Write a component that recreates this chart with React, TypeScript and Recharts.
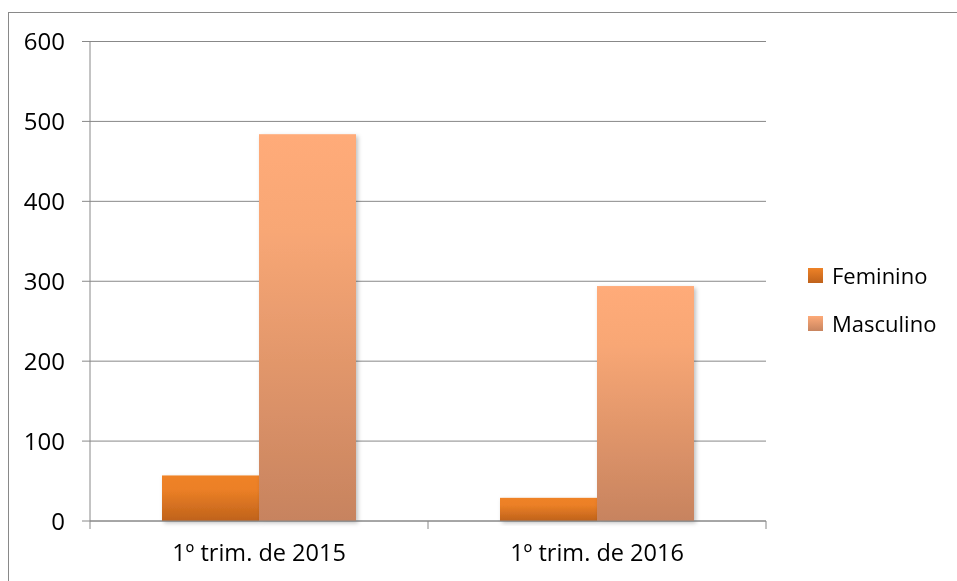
import React from 'react';
import { BarChart, Bar, XAxis, YAxis, CartesianGrid, Legend } from 'recharts';

const categories = ['1º trim. de 2015', '1º trim. de 2016'];
const feminino = [57, 29];
const masculino = [484, 294];
const yTicks = [0, 100, 200, 300, 400, 500, 600];

const data = categories.map((name, i) => ({
  name,
  Feminino: feminino[i],
  Masculino: masculino[i],
}));

const FONT = '"Open Sans", "Liberation Sans", sans-serif';
const GRID = '#888888';
const HALF_BAND = 169;

const legendItems = [
  { label: 'Feminino', top: '#EE8227', bottom: '#BF621B' },
  { label: 'Masculino', top: '#FDAA78', bottom: '#C8845F' },
];

function XTick(props: any) {
  const { x, y, payload, index } = props;
  const last = index === categories.length - 1;
  return (
    <g>
      <line x1={x - HALF_BAND} y1={y} x2={x - HALF_BAND} y2={y + 8} stroke={GRID} />
      {last && <line x1={x + HALF_BAND} y1={y} x2={x + HALF_BAND} y2={y + 8} stroke={GRID} />}
      <text x={x} y={y + 34} textAnchor="middle" dominantBaseline="middle" fontFamily={FONT} fontSize={23.5} fill="#000">
        {payload.value}
      </text>
    </g>
  );
}

function BarShape(props: any) {
  const { x, y, width, height, fill } = props;
  return <rect x={x} y={y} width={width} height={height} fill={fill} filter="url(#barShadow)" />;
}

function LegendContent() {
  return (
    <div style={{ fontFamily: FONT, fontSize: 22, color: '#000', whiteSpace: 'nowrap', width: 150 }}>
      {legendItems.map((it) => (
        <div key={it.label} style={{ height: 48, display: 'flex', alignItems: 'center' }}>
          <div
            style={{
              width: 15,
              height: 15,
              flexShrink: 0,
              marginRight: 9,
              background: `linear-gradient(${it.top}, ${it.bottom})`,
            }}
          />
          <span>{it.label}</span>
        </div>
      ))}
    </div>
  );
}

export default function App() {
  return (
    <div
      style={{
        position: 'fixed',
        left: 8,
        top: 12,
        width: 2000,
        height: 2000,
        borderLeft: '1px solid #898989',
        borderTop: '1px solid #898989',
      }}
    >
      <BarChart
        width={940}
        height={568}
        data={data}
        margin={{ top: 28.5, right: 183, left: 0, bottom: 0 }}
        barGap={0}
        barCategoryGap={72}
      >
        <defs>
          <linearGradient id="gradFem" x1="0" y1="0" x2="0" y2="1">
            <stop offset="0%" stopColor="#EF8226" />
            <stop offset="30%" stopColor="#EC8026" />
            <stop offset="100%" stopColor="#BF621B" />
          </linearGradient>
          <linearGradient id="gradMasc" x1="0" y1="0" x2="0" y2="1">
            <stop offset="0%" stopColor="#FFAB79" />
            <stop offset="25%" stopColor="#F8A775" />
            <stop offset="100%" stopColor="#C7835F" />
          </linearGradient>
          <filter id="barShadow" x="-10%" y="-10%" width="130%" height="130%">
            <feDropShadow dx="2" dy="2" stdDeviation="2" floodColor="#000" floodOpacity="0.25" />
          </filter>
        </defs>
        <CartesianGrid vertical={false} stroke={GRID} strokeWidth={1} />
        <XAxis
          dataKey="name"
          axisLine={{ stroke: GRID }}
          tickLine={false}
          tickSize={0}
          tickMargin={0}
          height={60}
          tick={<XTick />}
          interval={0}
        />
        <YAxis
          domain={[0, 600]}
          ticks={yTicks}
          width={81}
          axisLine={{ stroke: GRID }}
          tickLine={{ stroke: GRID }}
          tickSize={8}
          tickMargin={17}
          interval={0}
          tick={{ fontFamily: FONT, fontSize: 24, fill: '#000' }}
        />
        <Legend
          layout="horizontal"
          verticalAlign="middle"
          align="center"
          content={<LegendContent />}
          wrapperStyle={{ position: 'absolute', left: 799, top: 238, width: 0, height: 0 }}
        />
        <Bar dataKey="Feminino" fill="url(#gradFem)" shape={<BarShape />} isAnimationActive={false} />
        <Bar dataKey="Masculino" fill="url(#gradMasc)" shape={<BarShape />} isAnimationActive={false} />
      </BarChart>
    </div>
  );
}
